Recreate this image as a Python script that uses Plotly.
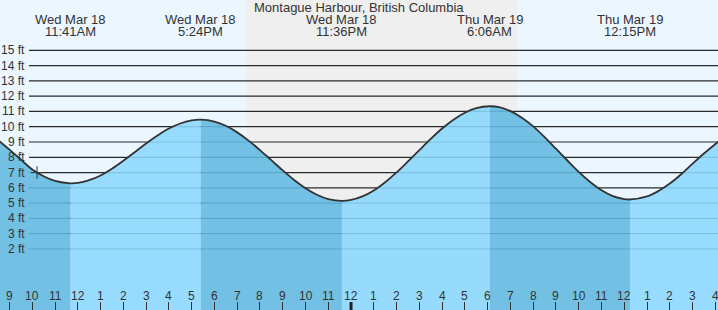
import plotly.graph_objects as go

title = "Montague Harbour, British Columbia"

# tide curve (hours since Wed Mar 18 00:00, feet)
tide_hours = [8, 8.5, 9, 9.5, 10, 10.5, 11, 11.683, 12, 12.5, 13, 13.5, 14, 14.5, 15, 15.5, 16, 16.5, 17, 17.4,
              18, 18.5, 19, 19.5, 20, 20.5, 21, 21.5, 22, 22.5, 23, 23.6,
              24, 24.5, 25, 25.5, 26, 26.5, 27, 27.5, 28, 28.5, 29, 29.5, 30.1,
              30.5, 31, 31.5, 32, 32.5, 33, 33.5, 34, 34.5, 35, 35.5, 36, 36.25,
              37, 37.5, 38, 38.5, 39, 39.5, 40, 41]
tide_feet = [9.83, 9.13, 8.5, 7.85, 7.2, 6.76, 6.45, 6.29, 6.32, 6.50, 6.81, 7.25, 7.77, 8.33, 8.90, 9.42, 9.88, 10.21, 10.41, 10.46,
             10.34, 10.06, 9.63, 9.09, 8.47, 7.81, 7.14, 6.52, 5.98, 5.55, 5.27, 5.15,
             5.21, 5.44, 5.83, 6.37, 7.01, 7.73, 8.47, 9.20, 9.88, 10.46, 10.91, 11.21, 11.34,
             11.28, 11.02, 10.59, 10.02, 9.32, 8.56, 7.79, 7.04, 6.38, 5.84, 5.46, 5.27, 5.24,
             5.44, 5.79, 6.28, 6.89, 7.58, 8.25, 8.87, 10.1]

# high / low events
event_times = [11.683, 17.4, 23.6, 30.1, 36.25]
event_days = ["Wed Mar 18", "Wed Mar 18", "Wed Mar 18", "Thu Mar 19", "Thu Mar 19"]
event_clock = ["11:41AM", "5:24PM", "11:36PM", "6:06AM", "12:15PM"]

# night (sunset -> sunrise)
night_start = 19.39
night_end = 31.29

# current time marker
now_hour = 10.21
now_feet = 7.0

# y grid
grid_feet = [2, 3, 4, 5, 6, 7, 8, 9, 10, 11, 12, 13, 14, 15]
grid_labels = ["2 ft", "3 ft", "4 ft", "5 ft", "6 ft", "7 ft", "8 ft", "9 ft", "10 ft",
               "11 ft", "12 ft", "13 ft", "14 ft", "15 ft"]

# x hour ticks
hour_ticks = list(range(9, 41))
hour_labels = ["9", "10", "11", "12", "1", "2", "3", "4", "5", "6", "7", "8", "9", "10", "11", "12",
               "1", "2", "3", "4", "5", "6", "7", "8", "9", "10", "11", "12", "1", "2", "3", "4"]
midnight = 24

X_RANGE = [8.583, 40.116]
Y_RANGE = [-1.99, 18.29]
W, H = 718, 310

LIGHT = "rgba(139,216,254,0.88)"
DARK = "rgba(97,186,225,0.88)"
TXT = "#333333"
FONT = "Liberation Sans, Arial, sans-serif"
SMOOTH = 1.0

fig = go.Figure()

bounds = [tide_hours[0]] + event_times + [tide_hours[-1]]
for i in range(len(bounds) - 1):
    a, b = bounds[i], bounds[i + 1]
    xs = [h for h in tide_hours if a <= h <= b]
    ys = [v for h, v in zip(tide_hours, tide_feet) if a <= h <= b]
    col = DARK if i % 2 == 0 else LIGHT
    fig.add_trace(go.Scatter(x=[a, b], y=[-5, -5], mode="lines", line=dict(width=0),
                             showlegend=False, hoverinfo="skip"))
    fig.add_trace(go.Scatter(x=xs, y=ys, mode="lines", fill="tonexty", fillcolor=col,
                             line=dict(width=0, shape="spline", smoothing=SMOOTH),
                             showlegend=False, hoverinfo="skip"))

fig.add_trace(go.Scatter(x=tide_hours, y=tide_feet, mode="lines",
                         line=dict(color="#333333", width=1.8, shape="spline", smoothing=SMOOTH),
                         showlegend=False, hoverinfo="skip"))

fig.add_trace(go.Scatter(x=[now_hour], y=[now_feet], mode="markers",
                         marker=dict(symbol="cross-thin", size=9, line=dict(color="#333333", width=1)),
                         showlegend=False, hoverinfo="skip"))

shapes = [dict(type="rect", xref="x", yref="paper", x0=night_start, x1=night_end, y0=0, y1=1,
               fillcolor="#EFEFEF", line=dict(width=0), layer="below")]
for g in grid_feet:
    shapes.append(dict(type="line", xref="paper", yref="y", x0=29 / W, x1=1, y0=g, y1=g,
                       line=dict(color="#2b2b2b", width=1.2), layer="below"))
shapes.append(dict(type="line", xref="x", yref="paper", x0=midnight, x1=midnight, y0=0, y1=8 / H,
                   line=dict(color="#222222", width=3), layer="above"))

ann = [dict(text=title, xref="paper", yref="paper", x=0.5, y=1 - 7.5 / H, xanchor="center",
            yanchor="middle", showarrow=False, font=dict(family=FONT, size=13, color=TXT))]
for t, d, c in zip(event_times, event_days, event_clock):
    ann.append(dict(text=d, xref="x", yref="paper", x=t, y=1 - 19.5 / H, xanchor="center",
                    yanchor="middle", showarrow=False, font=dict(family=FONT, size=13, color=TXT)))
    ann.append(dict(text=c, xref="x", yref="paper", x=t, y=1 - 31.5 / H, xanchor="center",
                    yanchor="middle", showarrow=False, font=dict(family=FONT, size=13, color=TXT)))
for g, lab in zip(grid_feet, grid_labels):
    ann.append(dict(text=lab, xref="paper", yref="y", x=27 / W, y=g, xanchor="right",
                    yanchor="middle", showarrow=False, font=dict(family=FONT, size=12, color=TXT)))
for h, lab in zip(hour_ticks, hour_labels):
    ann.append(dict(text=lab, xref="x", yref="paper", x=h, y=14.5 / H, xanchor="center",
                    yanchor="middle", showarrow=False, font=dict(family=FONT, size=12, color=TXT)))

fig.update_layout(
    width=W, height=H,
    margin=dict(l=0, r=0, t=0, b=0, pad=0),
    paper_bgcolor="#EBF6FF",
    plot_bgcolor="#EBF6FF",
    shapes=shapes,
    annotations=ann,
    xaxis=dict(range=X_RANGE, showgrid=False, zeroline=False, showline=False,
               tickvals=hour_ticks, ticks="inside", ticklen=8, tickwidth=1, tickcolor="#333333",
               showticklabels=False, fixedrange=True),
    yaxis=dict(range=Y_RANGE, showgrid=False, zeroline=False, showline=False,
               showticklabels=False, fixedrange=True),
    showlegend=False,
)

fig.write_html("out.html", config={"displayModeBar": False})
